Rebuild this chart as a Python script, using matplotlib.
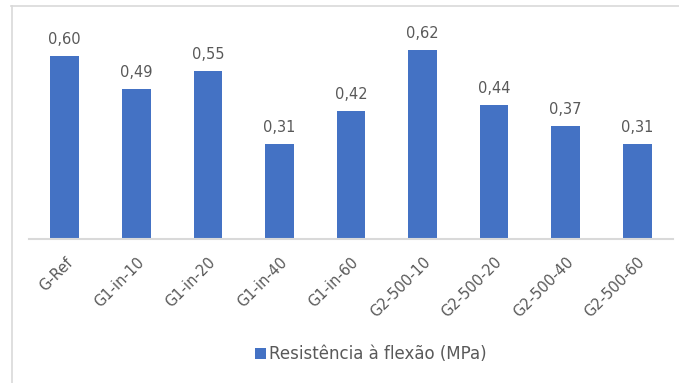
import matplotlib
matplotlib.use("Agg")
import matplotlib.pyplot as plt
from matplotlib.lines import Line2D
from matplotlib.patches import Patch

categories = ["G-Ref", "G1-in-10", "G1-in-20", "G1-in-40", "G1-in-60",
              "G2-500-10", "G2-500-20", "G2-500-40", "G2-500-60"]
values = [0.60, 0.49, 0.55, 0.31, 0.42, 0.62, 0.44, 0.37, 0.31]
series_name = "Resistência à flexão (MPa)"

BAR = "#4472C4"
TEXT = "#595959"
FONT = "DejaVu Sans"

W, H = 679, 383
fig = plt.figure(figsize=(W / 100, H / 100), dpi=100)

def fx(px):
    return px / W

def fy(py):
    return 1 - py / H

# chart frame (partly outside the canvas)
frame = "#D9D9D9"
fig.add_artist(Line2D([fx(11), 1], [fy(5.5), fy(5.5)], color=frame, lw=1.2))
fig.add_artist(Line2D([fx(11.5), fx(11.5)], [fy(5.5), 0], color=frame, lw=1.2))

ymax = 0.7
left, right, base = 29, 673, 239.3
top = base - ymax * 306
ax = fig.add_axes([fx(left), fy(base), fx(right) - fx(left), fy(top) - fy(base)])

x = list(range(len(categories)))
bars = ax.bar(x, values, width=0.40, color=BAR, zorder=2)
ax.set_xlim(-0.5, len(categories) - 0.5)
ax.set_ylim(0, ymax)

for rect, v in zip(bars, values):
    ax.annotate(f"{v:.2f}".replace(".", ","),
                xy=(rect.get_x() + rect.get_width() / 2, v),
                xytext=(0, 6.5), textcoords="offset points",
                ha="center", va="bottom", color=TEXT,
                fontsize=10.5, family=FONT)

for s in ["top", "right", "left"]:
    ax.spines[s].set_visible(False)
ax.spines["bottom"].set_color("#D9D9D9")
ax.spines["bottom"].set_linewidth(1.5)
ax.set_yticks([])
ax.set_xticks(x)
ax.set_xticklabels(categories, rotation=45, ha="right", va="top",
                   rotation_mode="anchor", color=TEXT, fontsize=10.5, family=FONT)
ax.tick_params(axis="x", length=0, pad=11)

handle = Patch(facecolor=BAR, edgecolor="none")
leg = fig.legend([handle], [series_name], loc="center",
                 bbox_to_anchor=(fx(371), fy(354)), frameon=False,
                 handlelength=0.65, handleheight=0.65, handletextpad=0.2,
                 prop={"family": FONT, "size": 12})
for t in leg.get_texts():
    t.set_color(TEXT)

fig.savefig("out.png", dpi=100, facecolor="white")
